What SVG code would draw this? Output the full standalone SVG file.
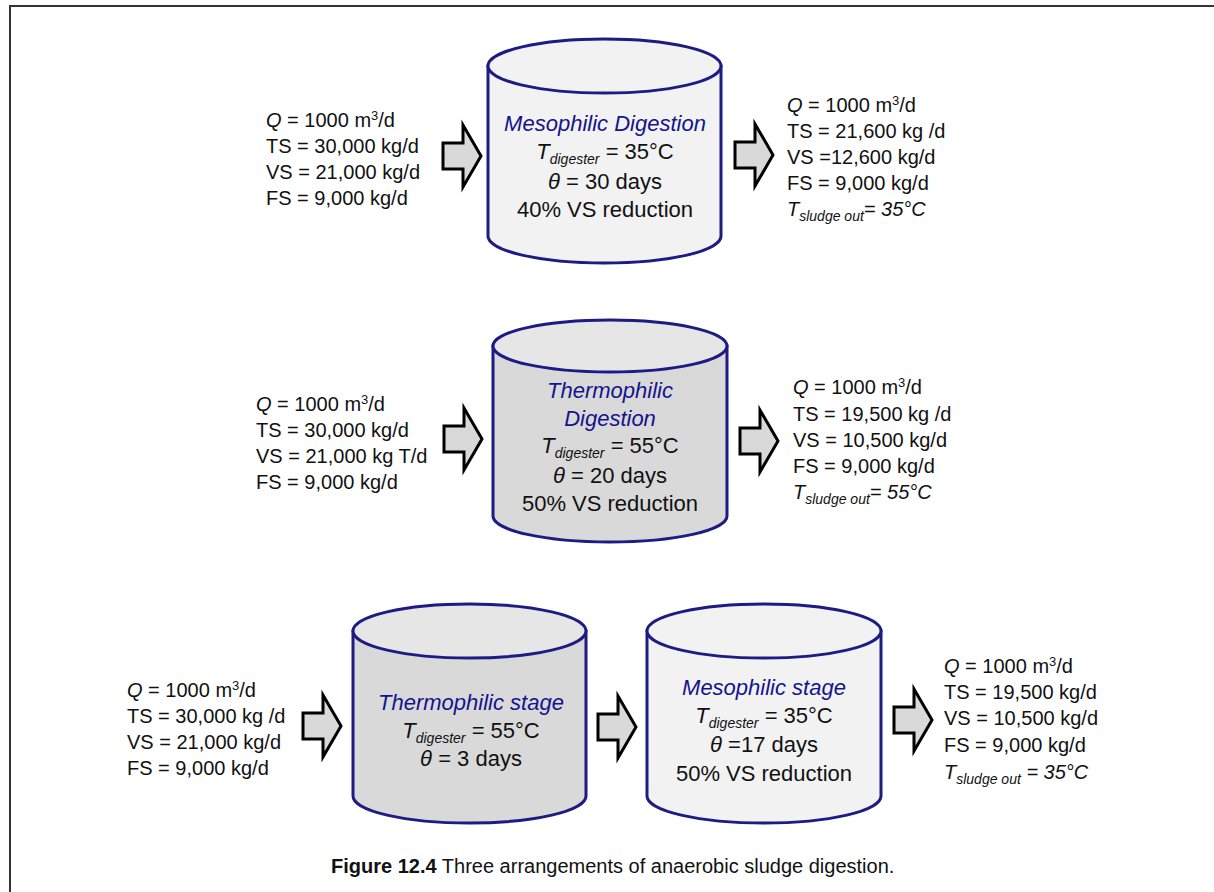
<svg xmlns="http://www.w3.org/2000/svg" width="1214" height="892" viewBox="0 0 1214 892">
<style>
.t{font-family:"Liberation Sans",Arial,sans-serif;font-size:20px;fill:#111}
.c{font-family:"Liberation Sans",Arial,sans-serif;font-size:22px;fill:#111;text-anchor:middle}
.b{fill:#14148c;font-style:italic}
.i{font-style:italic}
.sub{font-size:14px;font-style:italic}
.sup{font-size:13px}
.cyl{stroke:#1c1c84;stroke-width:3}
.arr{fill:#d9d9d9;stroke:#000;stroke-width:3;stroke-linejoin:miter}
.cap{font-family:"Liberation Sans",Arial,sans-serif;font-size:20px;fill:#111}
</style>
<defs>
<path id="ar" d="M0,-13 H20 V-31 L38,0 L20,31 V13 H0 Z"/>
</defs>
<rect x="0" y="0" width="1214" height="892" fill="#fff"/>
<path d="M10,892 V6 H1214" fill="none" stroke="#333" stroke-width="2"/>

<g id="connectors">
<use href="#ar" class="arr" transform="translate(443,156)"/>
<use href="#ar" class="arr" transform="translate(735,155)"/>
<use href="#ar" class="arr" transform="translate(444,439)"/>
<use href="#ar" class="arr" transform="translate(740,441)"/>
<use href="#ar" class="arr" transform="translate(303,726)"/>
<use href="#ar" class="arr" transform="translate(598,727)"/>
<use href="#ar" class="arr" transform="translate(894,720)"/>
</g>

<g id="in1">
<text class="t" x="266" y="127"><tspan class="i">Q</tspan> = 1000 m<tspan class="sup" dy="-7">3</tspan><tspan dy="7">/d</tspan></text>
<text class="t" x="266" y="153">TS = 30,000 kg/d</text>
<text class="t" x="266" y="179">VS = 21,000 kg/d</text>
<text class="t" x="266" y="205">FS = 9,000 kg/d</text>
</g>

<g id="mesophilic-digestion">
<path class="cyl" fill="#f2f2f2" d="M488,66 V236 A116.5,27 0 0 0 721,236 V66 Z"/>
<ellipse class="cyl" fill="#f2f2f2" cx="604.5" cy="66" rx="116.5" ry="27"/>
<text class="c b" x="605" y="131">Mesophilic Digestion</text>
<text class="c" x="605" y="159"><tspan class="i">T</tspan><tspan class="sub" dy="5">digester</tspan><tspan dy="-5"> = 35°C</tspan></text>
<text class="c" x="605" y="189"><tspan class="i">θ</tspan> = 30 days</text>
<text class="c" x="605" y="217">40% VS reduction</text>
</g>

<g id="out1">
<text class="t" x="787" y="112"><tspan class="i">Q</tspan> = 1000 m<tspan class="sup" dy="-7">3</tspan><tspan dy="7">/d</tspan></text>
<text class="t" x="787" y="138">TS = 21,600 kg /d</text>
<text class="t" x="787" y="164">VS =12,600 kg/d</text>
<text class="t" x="787" y="190">FS = 9,000 kg/d</text>
<text class="t i" x="787" y="216">T<tspan class="sub" dy="5">sludge out</tspan><tspan dy="-5">= 35°C</tspan></text>
</g>

<g id="in2">
<text class="t" x="256" y="411"><tspan class="i">Q</tspan> = 1000 m<tspan class="sup" dy="-7">3</tspan><tspan dy="7">/d</tspan></text>
<text class="t" x="256" y="437">TS = 30,000 kg/d</text>
<text class="t" x="256" y="463">VS = 21,000 kg T/d</text>
<text class="t" x="256" y="489">FS = 9,000 kg/d</text>
</g>

<g id="thermophilic-digestion">
<path class="cyl" fill="#d9d9d9" d="M493,346 V516 A117,26 0 0 0 727,516 V346 Z"/>
<ellipse class="cyl" fill="#e6e6e6" cx="610" cy="346" rx="117" ry="26"/>
<text class="c b" x="610" y="398">Thermophilic</text>
<text class="c b" x="610" y="426">Digestion</text>
<text class="c" x="610" y="453"><tspan class="i">T</tspan><tspan class="sub" dy="5">digester</tspan><tspan dy="-5"> = 55°C</tspan></text>
<text class="c" x="610" y="483"><tspan class="i">θ</tspan> = 20 days</text>
<text class="c" x="610" y="511">50% VS reduction</text>
</g>

<g id="out2">
<text class="t" x="793" y="394"><tspan class="i">Q</tspan> = 1000 m<tspan class="sup" dy="-7">3</tspan><tspan dy="7">/d</tspan></text>
<text class="t" x="793" y="421">TS = 19,500 kg /d</text>
<text class="t" x="793" y="447">VS = 10,500 kg/d</text>
<text class="t" x="793" y="473">FS = 9,000 kg/d</text>
<text class="t i" x="793" y="499">T<tspan class="sub" dy="5">sludge out</tspan><tspan dy="-5">= 55°C</tspan></text>
</g>

<g id="in3">
<text class="t" x="127" y="697"><tspan class="i">Q</tspan> = 1000 m<tspan class="sup" dy="-7">3</tspan><tspan dy="7">/d</tspan></text>
<text class="t" x="127" y="723">TS = 30,000 kg /d</text>
<text class="t" x="127" y="749">VS = 21,000 kg/d</text>
<text class="t" x="127" y="775">FS = 9,000 kg/d</text>
</g>

<g id="thermophilic-stage">
<path class="cyl" fill="#d9d9d9" d="M353,631 V796 A116.5,27 0 0 0 586,796 V631 Z"/>
<ellipse class="cyl" fill="#e6e6e6" cx="469.5" cy="631" rx="116.5" ry="27"/>
<text class="c b" x="471" y="710">Thermophilic stage</text>
<text class="c" x="471" y="738"><tspan class="i">T</tspan><tspan class="sub" dy="5">digester</tspan><tspan dy="-5"> = 55°C</tspan></text>
<text class="c" x="471" y="766"><tspan class="i">θ</tspan> = 3 days</text>
</g>

<g id="mesophilic-stage">
<path class="cyl" fill="#f2f2f2" d="M647,631 V796 A117,27 0 0 0 881,796 V631 Z"/>
<ellipse class="cyl" fill="#f2f2f2" cx="764" cy="631" rx="117" ry="27"/>
<text class="c b" x="764" y="695">Mesophilic stage</text>
<text class="c" x="764" y="723"><tspan class="i">T</tspan><tspan class="sub" dy="5">digester</tspan><tspan dy="-5"> = 35°C</tspan></text>
<text class="c" x="764" y="752"><tspan class="i">θ</tspan> =17 days</text>
<text class="c" x="764" y="781">50% VS reduction</text>
</g>

<g id="out3">
<text class="t" x="944" y="673"><tspan class="i">Q</tspan> = 1000 m<tspan class="sup" dy="-7">3</tspan><tspan dy="7">/d</tspan></text>
<text class="t" x="944" y="699">TS = 19,500  kg/d</text>
<text class="t" x="944" y="725">VS = 10,500 kg/d</text>
<text class="t" x="944" y="752">FS = 9,000 kg/d</text>
<text class="t i" x="944" y="779">T<tspan class="sub" dy="5">sludge out</tspan><tspan dy="-5"> = 35°C</tspan></text>
</g>

<text class="cap" x="331" y="873"><tspan font-weight="bold">Figure 12.4</tspan> Three arrangements of anaerobic sludge digestion.</text>
</svg>
